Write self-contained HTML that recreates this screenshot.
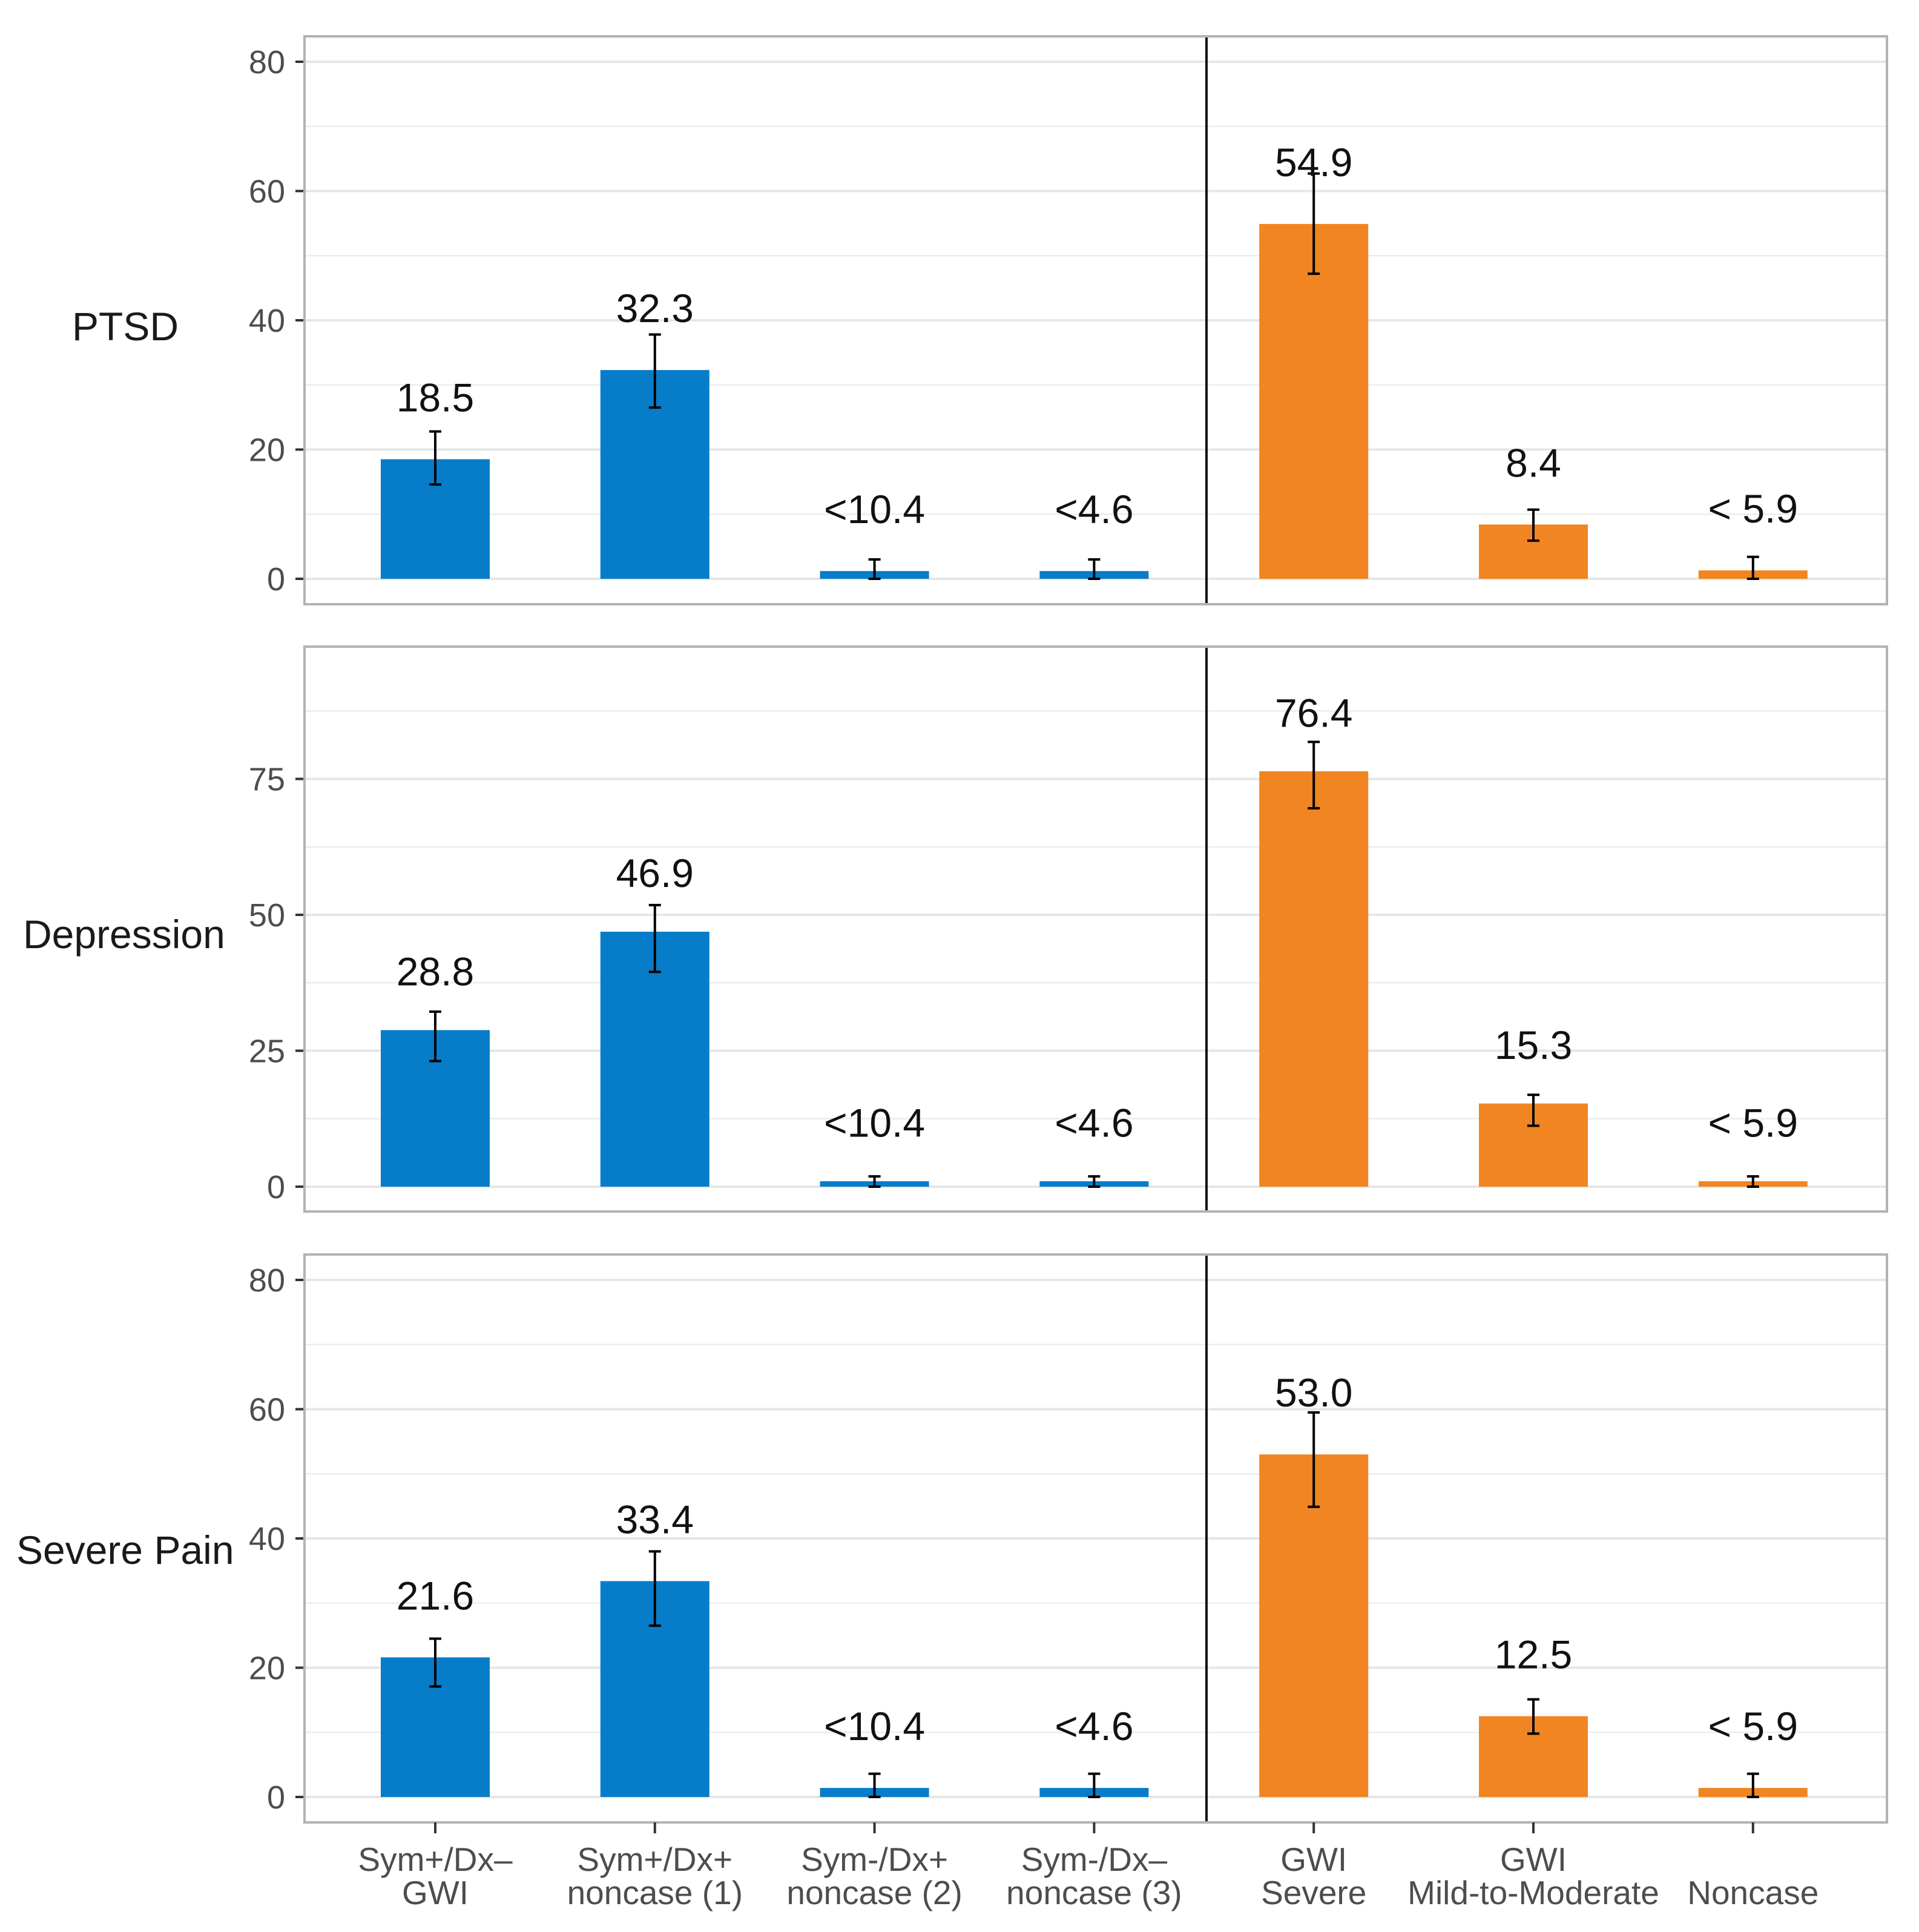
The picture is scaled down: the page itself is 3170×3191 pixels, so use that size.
<!DOCTYPE html>
<html><head><meta charset="utf-8"><style>
html,body{margin:0;padding:0;background:#fff;}
svg{display:block;font-family:"Liberation Sans",Arial,sans-serif;}
</style></head><body>
<svg id="chart" width="3170" height="3191" viewBox="0 0 3170 3191" xmlns="http://www.w3.org/2000/svg"></svg>
<script>
const categories = ["Sym+/Dx\u2013|GWI","Sym+/Dx+|noncase (1)","Sym-/Dx+|noncase (2)","Sym-/Dx\u2013|noncase (3)","GWI|Severe","GWI|Mild-to-Moderate","|Noncase"];
const groupColors = ["blue","blue","blue","blue","orange","orange","orange"];
const panelNames = ["PTSD","Depression","Severe Pain"];
const ptsdValues = [18.5,32.3,1.2,1.2,54.9,8.4,1.3];
const ptsdLow = [14.6,26.5,0,0,47.2,5.9,0];
const ptsdHigh = [22.8,37.8,3.0,3.0,62.7,10.7,3.4];
const ptsdLabels = ["18.5","32.3","<10.4","<4.6","54.9","8.4","< 5.9"];
const depValues = [28.8,46.9,1.0,1.0,76.4,15.3,1.0];
const depLow = [23.1,39.5,0,0,69.6,11.2,0];
const depHigh = [32.2,51.8,1.9,1.9,81.8,16.9,1.9];
const depLabels = ["28.8","46.9","<10.4","<4.6","76.4","15.3","< 5.9"];
const painValues = [21.6,33.4,1.4,1.4,53.0,12.5,1.4];
const painLow = [17.1,26.5,0,0,44.9,9.8,0];
const painHigh = [24.5,38.0,3.6,3.6,59.5,15.1,3.6];
const painLabels = ["21.6","33.4","<10.4","<4.6","53.0","12.5","< 5.9"];
const ptsdTicks = [0,20,40,60,80];
const depTicks = [0,25,50,75];
const painTicks = [0,20,40,60,80];

const NS="http://www.w3.org/2000/svg";
const svg=document.getElementById('chart');
function mk(tag,attrs,parent){const e=document.createElementNS(NS,tag);for(const k in attrs)e.setAttribute(k,attrs[k]);(parent||svg).appendChild(e);return e;}
const colorMap={blue:"#077dca",orange:"#f08522"};
const L=503,R=3117,DIV=1993;
const x0=719,step=362.8,barW=180;
function xScale(i){return x0+i*step;}
const panels=[
 {top:60,bottom:998,zero:956,ppu:10.675,vals:ptsdValues,lo:ptsdLow,hi:ptsdHigh,labs:ptsdLabels,ticks:ptsdTicks,minor:10,max:83,labOff:7.4,nameX:119,nameY:562},
 {top:1068,bottom:2001,zero:1960,ppu:8.98,vals:depValues,lo:depLow,hi:depHigh,labs:depLabels,ticks:depTicks,minor:12.5,max:99,labOff:8.2,nameX:38,nameY:1566},
 {top:2072,bottom:3010,zero:2968,ppu:10.675,vals:painValues,lo:painLow,hi:painHigh,labs:painLabels,ticks:painTicks,minor:10,max:83,labOff:7.4,nameX:27,nameY:2583}
];
panels.forEach((p,pi)=>{
 const y=v=>p.zero-v*p.ppu;
 const g=mk('g',{});
 
 
 // minor grid
 for(let v=p.minor/ (p.minor===12.5?1:1); v<p.max; v+=p.minor*2){
   const l=mk('line',{x1:L,x2:R,y1:y(v),y2:y(v),stroke:"#ececec","stroke-width":2.5},g);
   
   
 }
 p.ticks.forEach(t=>{
   const l=mk('line',{x1:L,x2:R,y1:y(t),y2:y(t),stroke:"#e6e6e6","stroke-width":4},g);
   
   
   const tk=mk('line',{x1:488,x2:503,y1:y(t),y2:y(t),stroke:"#333","stroke-width":4},g);
   
   
   const tx=mk('text',{x:471,y:y(t)+19,"text-anchor":"end","font-size":54,fill:"#4d4d4d"},g);
   tx.textContent=t;
   
   
 });
 p.vals.forEach((v,i)=>{
   const cx=xScale(i);
   const b=mk('rect',{x:cx-barW/2,y:y(v),width:barW,height:v*p.ppu,fill:colorMap[groupColors[i]]},g);
   
   
   const eg=mk('g',{stroke:"#000","stroke-width":4},g);
   
   
   mk('line',{x1:cx,x2:cx,y1:y(p.hi[i]),y2:y(p.lo[i])},eg);
   mk('line',{x1:cx-10,x2:cx+10,y1:y(p.hi[i]),y2:y(p.hi[i])},eg);
   mk('line',{x1:cx-10,x2:cx+10,y1:y(p.lo[i]),y2:y(p.lo[i])},eg);
   const t=mk('text',{x:cx,y:y(v+p.labOff),"text-anchor":"middle","font-size":66,fill:"#111"},g);
   t.textContent=p.labs[i];
   
   
 });
 const d=mk('line',{x1:DIV,x2:DIV,y1:p.top,y2:p.bottom,stroke:"#111","stroke-width":4},g);
 
 
 const br=mk('rect',{x:L,y:p.top,width:R-L,height:p.bottom-p.top,fill:"none",stroke:"#b3b3b3","stroke-width":4},g);
 
 
 const nm=mk('text',{x:p.nameX,y:p.nameY,"font-size":66,fill:"#1a1a1a"},g);
 nm.textContent=panelNames[pi];
 
 
});
categories.forEach((c,i)=>{
 const cx=xScale(i);
 const tk=mk('line',{x1:cx,x2:cx,y1:3010,y2:3028,stroke:"#333","stroke-width":4});
 
 
 const parts=c.split('|');
 parts.forEach((s,j)=>{
   if(!s)return;
   const t=mk('text',{x:cx,y:3090+j*55,"text-anchor":"middle","font-size":55,fill:"#4d4d4d"});
   t.textContent=s;
   
   
 });
});
</script>
</body></html>
